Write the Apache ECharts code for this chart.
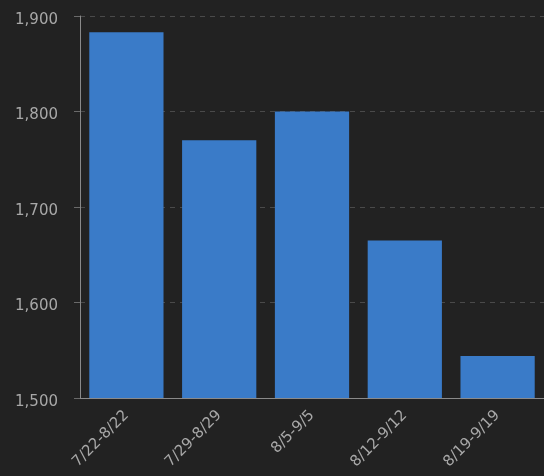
<!DOCTYPE html>
<html><head><meta charset="utf-8">
<script src="https://cdn.jsdelivr.net/npm/echarts@6/dist/echarts.min.js"></script>
<style>html,body{margin:0;padding:0;background:#222222;}#c{width:544px;height:476px;}</style>
</head><body><div id="c"></div>
<script>
const categories = ['7/22-8/22','7/29-8/29','8/5-9/5','8/12-9/12','8/19-9/19'];
const values = [1883, 1770, 1800, 1665, 1544];
const yTicks = [1500, 1600, 1700, 1800, 1900];
const chart = echarts.init(document.getElementById('c'));
chart.setOption({
  backgroundColor: '#222222',
  animation: false,
  grid: {left: 80, top: 16, width: 470, bottom: 78},
  xAxis: {
    type: 'category', data: categories,
    axisLine: {lineStyle: {color: '#8a8a8a'}},
    axisTick: {alignWithLabel: true, length: 5, lineStyle: {color: '#8a8a8a'}},
    axisLabel: {rotate: 45, color: '#a8a8a8', fontFamily: 'DejaVu Sans', fontSize: 15, margin: 15}
  },
  yAxis: {
    type: 'value', min: yTicks[0], max: yTicks[yTicks.length-1], interval: 100,
    axisLine: {show: true, lineStyle: {color: '#8a8a8a'}},
    axisTick: {show: true, length: 6, lineStyle: {color: '#6a6a6a'}},
    axisLabel: {color: '#a8a8a8', fontFamily: 'DejaVu Sans', fontSize: 15, margin: 22,
      formatter: v => '{a|' + v.toLocaleString('en-US') + '}',
      rich: {a: {color: '#a8a8a8', fontFamily: 'DejaVu Sans', fontSize: 15, padding: [8, 0, 0, 0]}}},
    splitLine: {lineStyle: {color: '#4a4a4a', type: [5, 5]}}
  },
  series: [{
    type: 'bar', data: values, barCategoryGap: '20%',
    itemStyle: {color: '#3a7bc8'}
  }]
});
</script></body></html>
